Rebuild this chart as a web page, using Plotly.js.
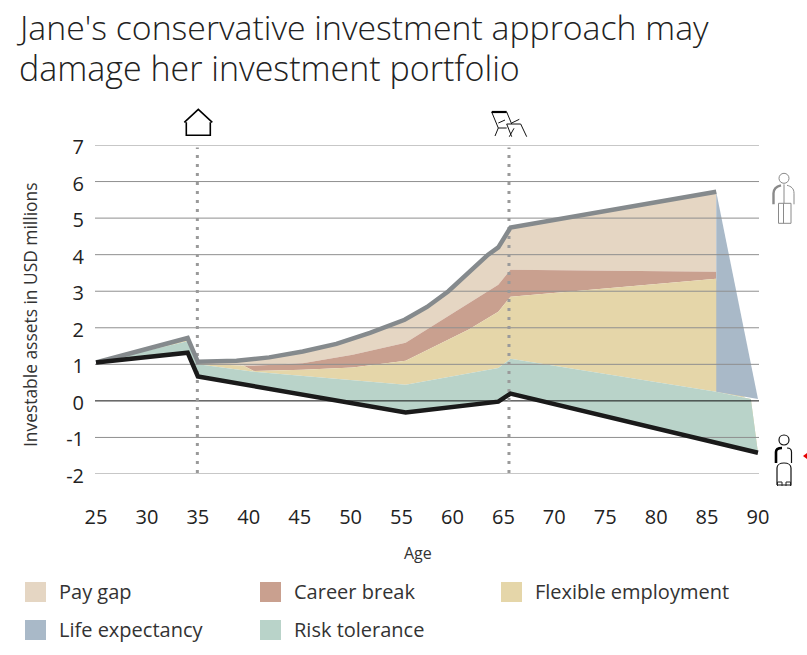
<!DOCTYPE html>
<html><head><meta charset="utf-8">
<script src="https://cdn.plot.ly/plotly-3.0.1.min.js"></script>
<style>html,body{margin:0;padding:0;background:#fff}#c{width:807px;height:655px}</style>
</head><body><div id="c"></div>
<script>
// ---- data ----
const xTicks=[25,30,35,40,45,50,55,60,65,70,75,80,85,90];
const yTicks=[-2,-1,0,1,2,3,4,5,6,7];
const eventAges=[34.95,65.55];
const legendNames=["Pay gap","Career break","Flexible employment","Life expectancy","Risk tolerance"];

const topAge=[25,34,35,38.8,42,45.3,48.6,51.9,55.3,57.5,59.6,63.5,64.5,65.7,85.9];
const topVal=[1.05,1.72,1.07,1.1,1.19,1.35,1.56,1.86,2.22,2.57,3.0,4.0,4.2,4.74,5.72];

const careerTopAge=[25,34,35,39.5,42,45.3,50.2,55.4,64.5,65.7,85.9];
const careerTopVal=[1.05,1.68,1.05,0.96,0.98,1.03,1.26,1.59,3.18,3.59,3.53];

const flexTopAge=[25,34,35,39.5,40.5,45.3,50.2,55.4,61.6,64.5,65.7,85.9];
const flexTopVal=[1.05,1.66,1.03,0.96,0.82,0.85,0.91,1.1,1.95,2.44,2.85,3.34];

const riskTopAge=[25,34,35,40.5,55.4,64.5,65.7,85.9,89.3,90];
const riskTopVal=[1.05,1.63,1.0,0.8,0.44,0.9,1.15,0.25,0.05,-1.42];

const blackAge=[25,34,35,55.4,64.5,65.7,90];
const blackVal=[1.05,1.32,0.67,-0.32,-0.02,0.2,-1.42];

const lifeAge=[85.9,90,85.9];
const lifeVal=[5.72,0.05,0.25];

// ---- styling ----
const colors={"Pay gap":"#e5d6c3","Career break":"#c9a08f","Flexible employment":"#e5d6a9","Life expectancy":"#a9b9c8","Risk tolerance":"#b9d3c9"};
const L=95,T=145,W=664,H=329;
const FONT="Open Sans, sans-serif";

function band(name,ax1,v1,ax2,v2){
  return {x:ax1.concat(ax2.slice().reverse()),y:v1.concat(v2.slice().reverse()),mode:"lines",fill:"toself",
    fillcolor:colors[name],line:{width:0,color:colors[name]},name:name,showlegend:false,hoverinfo:"name"};
}
const traces=[
  band("Pay gap",topAge,topVal,careerTopAge,careerTopVal),
  band("Career break",careerTopAge,careerTopVal,flexTopAge,flexTopVal),
  band("Flexible employment",flexTopAge,flexTopVal,riskTopAge,riskTopVal),
  band("Risk tolerance",riskTopAge,riskTopVal,blackAge,blackVal),
  band("Life expectancy",lifeAge,lifeVal,[],[])
];
yTicks.forEach(v=>traces.push({x:[24.9,90.1],y:[v,v],mode:"lines",showlegend:false,hoverinfo:"skip",
  line:{color:v===0?"#111111":"#8f8f8f",width:1}}));
eventAges.forEach(a=>traces.push({x:[a,a],y:[-1.97,6.93],mode:"lines",showlegend:false,hoverinfo:"skip",
  line:{color:"#9a9a9a",width:3,dash:"3px,6px"}}));
traces.push({x:topAge,y:topVal,mode:"lines",name:"Upper path",showlegend:false,line:{color:"#858a8d",width:4.5}});
traces.push({x:blackAge,y:blackVal,mode:"lines",name:"Lower path",showlegend:false,line:{color:"#1a1a1a",width:4.5}});

const px=x=>(x-L)/W, py=y=>1-(y-T)/H;
function icon(ax,ay,path,color,width,fill){
  return {type:"shape",xref:"paper",yref:"paper",xsizemode:"pixel",ysizemode:"pixel",xanchor:px(ax),yanchor:py(ay),
    path:path,line:{color:color,width:width},fillcolor:fill||"rgba(0,0,0,0)"};
}
const head="M-5,0 C-5,2.8 -2.8,5 0,5 C2.8,5 5,2.8 5,0 C5,-2.8 2.8,-5 0,-5 C-2.8,-5 -5,-2.8 -5,0 ";
const shapes=[
  icon(198.3,109.3,"M-14,-13 L0,0 L14,-13 M-12,-13 L-12,-26 L12,-26 L12,-13","#000",1.6),
  icon(470,100,"M21.7,-12 L28.3,-28 M36.7,-12 L41.7,-24 M36.7,-24 L50.7,-24 M50.7,-24 L56.7,-36.7 M36.7,-24 L41.7,-36.7 M28.3,-28 L36.7,-28 M28.3,-28 L25,-36 M28.3,-23 L35,-20 M41.7,-23 L49.3,-19.3 M39.3,-36.7 L44,-28.3","#111",1),
  icon(470,100,"M21.7,-12 L36.7,-12","#000",2.2),
  icon(784,178.3,head+"M0,-6 L0,-25 M7,-25 L7,-45 L-5.5,-45 L-5.5,-25 L7,-25 M-0.5,-25 L-0.5,-45 M10,-26 L10,-15 C10,-10 7,-8 3,-7","#8a8a8a",1),
  icon(784,178.3,"M-10.5,-26 L-10.5,-15 C-10.5,-10 -7,-8 -3,-7","#8a8a8a",2.4),
  icon(784,440,head+"M7.5,-23 L7.5,-12 C7.5,-9 5,-8 3,-8 M-7,-45 L-7,-28 C-7,-25 -4,-23 0,-23 C4,-23 7,-25 7,-28 L7,-45 L-7,-45","#111",1.2),
  icon(784,440,"M-8,-23 L-8,-12 C-8,-9 -5,-8 -2,-8","#000",2.6),
  icon(784,440,"M-6.5,-46 L-6.5,-42 L-2,-42 L-2,-46 M2,-46 L2,-42 L6.5,-42 L6.5,-46","#222",1),
  icon(803,456,"M0,0 L4,3 L4,-3 Z","#e60000",0,"#e60000")
];

const legendCols=[25,260,501], legendRows=[582,620], swW=21, swH=20;
const legendPos=[[0,0],[1,0],[2,0],[0,1],[1,1]];
const annotations=[];
legendNames.forEach((n,i)=>{
  const [c,r]=legendPos[i], x0=legendCols[c], y0=legendRows[r];
  shapes.push({type:"rect",xref:"paper",yref:"paper",x0:px(x0),x1:px(x0+swW),y0:py(y0),y1:py(y0+swH),
    fillcolor:colors[n],line:{width:0}});
  annotations.push({xref:"paper",yref:"paper",x:px(x0+32),y:py(y0+9.5),xanchor:"left",yanchor:"middle",showarrow:false,
    text:n,font:{family:FONT,size:20,color:"#333"}});
});
annotations.push({xref:"paper",yref:"paper",x:px(17),y:py(68),xanchor:"left",yanchor:"middle",showarrow:false,
  text:"damage her investment portfolio",font:{family:FONT,size:34,color:"#222",weight:300}});
annotations.push({xref:"paper",yref:"paper",x:px(418),y:py(553),xanchor:"center",yanchor:"middle",showarrow:false,
  text:"Age",font:{family:FONT,size:16,color:"#333"}});
annotations.push({xref:"paper",yref:"paper",x:px(30),y:py(315),xanchor:"center",yanchor:"middle",showarrow:false,textangle:-90,
  text:"Investable assets in USD millions",font:{family:FONT,size:17.4,color:"#333"}});

const layout={
  width:807,height:655,margin:{l:L,r:807-L-W,t:T,b:655-T-H,pad:0},
  paper_bgcolor:"#fff",plot_bgcolor:"#fff",showlegend:false,
  title:{text:"Jane's conservative investment approach may",
    x:20/807,xanchor:"left",xref:"container",y:1-28/655,yanchor:"middle",
    font:{family:FONT,size:33.8,color:"#222",weight:300}},
  xaxis:{range:[24.9,90.1],tickvals:xTicks,ticks:"",showgrid:false,zeroline:false,showline:false,
    tickfont:{family:FONT,size:20,color:"#222"},ticklabelstandoff:29},
  yaxis:{range:[-2,7],tickvals:yTicks,ticktext:yTicks.map(String),ticks:"",showgrid:false,zeroline:false,showline:false,
    tickfont:{family:FONT,size:20,color:"#222"},ticklabelstandoff:10,ticklabelshift:2},
  shapes:shapes,annotations:annotations,hovermode:false
};
Plotly.newPlot("c",traces,layout,{displayModeBar:false,staticPlot:true});
</script></body></html>
